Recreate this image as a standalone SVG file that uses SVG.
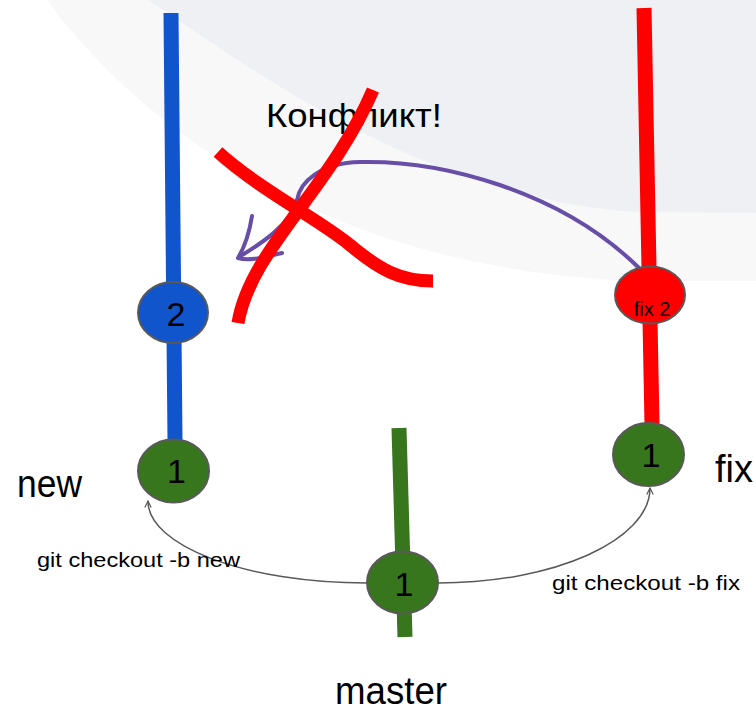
<svg xmlns="http://www.w3.org/2000/svg" width="756" height="711" viewBox="0 0 756 711">
  <defs>
    <marker id="arrGray" viewBox="0 0 10 10" refX="9" refY="5" markerWidth="8" markerHeight="8" orient="auto" markerUnits="userSpaceOnUse">
      <path d="M1,1 L9,5 L1,9" fill="none" stroke="#595959" stroke-width="1.5"/>
    </marker>
  </defs>
  <style>
    text { font-family: "Liberation Sans", Arial, sans-serif; fill: #000000; }
    .node { stroke: #595959; stroke-width: 2; }
    .green { fill: #38761d; }
    .blue { fill: #1155cc; }
    .red { fill: #ff0000; }
    .branch { stroke-width: 15; fill: none; stroke-linecap: butt; }
    .num { font-size: 34px; text-anchor: middle; }
    .label { font-size: 38px; }
    .cmd { font-size: 21px; }
    .link { fill: none; stroke: #595959; stroke-width: 1.5; }
    .cross { fill: none; stroke: #ff0000; stroke-width: 13; stroke-linecap: butt; }
    .merge { fill: none; stroke: #674ea7; stroke-width: 4; stroke-linecap: round; stroke-linejoin: round; }
  </style>
  <rect width="756" height="711" fill="#ffffff"/>
  <g id="background">
    <path d="M47,0 C120,100 300,270 640,281 L756,281 L756,0 Z" fill="#f8f8f9"/>
    <path d="M148,0 C240,60 420,200 640,212 L756,213 L756,0 Z" fill="#eff0f4"/>
  </g>
  <g id="branches">
    <line class="branch" x1="171" y1="13" x2="175" y2="440" stroke="#1155cc"/>
    <line class="branch" x1="644" y1="8" x2="652" y2="424" stroke="#ff0000"/>
    <line class="branch" x1="399" y1="428" x2="405" y2="637" stroke="#38761d"/>
  </g>
  <g id="connectors">
    <path class="link" d="M367,583 C246,583 148,546 148,501" marker-end="url(#arrGray)"/>
    <path class="link" d="M438,583 C555,583 650,540 650,488" marker-end="url(#arrGray)"/>
    <path class="merge" d="M639,268 C560,190 440,160 360,162 C320,163 300,182 297,200 C290,225 262,243 239,257"/>
    <path class="merge" d="M252,216 C249,235 244,248 238,258 C250,262 268,256 282,253"/>
  </g>
  <g id="node-new-2">
    <ellipse class="node blue" cx="173" cy="312.5" rx="35" ry="30.5"/>
    <text class="num" x="176" y="326">2</text>
  </g>
  <g id="node-fix-2">
    <ellipse class="node red" cx="650" cy="295" rx="35" ry="28.5"/>
    <text x="652" y="316" font-size="20" text-anchor="middle">fix 2</text>
  </g>
  <g id="node-new-1">
    <ellipse class="node green" cx="173.5" cy="471" rx="35.5" ry="31.5"/>
    <text class="num" x="176.5" y="483">1</text>
  </g>
  <g id="node-fix-1">
    <ellipse class="node green" cx="648.5" cy="454.5" rx="35.5" ry="31.5"/>
    <text class="num" x="651" y="467">1</text>
  </g>
  <g id="node-master-1">
    <ellipse class="node green" cx="402.5" cy="582.5" rx="35.5" ry="31"/>
    <text class="num" x="404" y="596">1</text>
  </g>
  <g id="labels">
    <text class="label" x="17" y="497" textLength="65" lengthAdjust="spacingAndGlyphs">new</text>
    <text class="label" x="715" y="482" font-size="34" textLength="38" lengthAdjust="spacingAndGlyphs">fix</text>
    <text class="label" x="335" y="704" font-size="36" textLength="112" lengthAdjust="spacingAndGlyphs">master</text>
    <text class="cmd" x="37" y="567" textLength="203" lengthAdjust="spacingAndGlyphs">git checkout -b new</text>
    <text class="cmd" x="552" y="590" textLength="188" lengthAdjust="spacingAndGlyphs">git checkout -b fix</text>
    <text x="266" y="127" font-size="33" textLength="176" lengthAdjust="spacingAndGlyphs">Конфликт!</text>
  </g>
  <g id="conflict-cross">
    <path class="cross" d="M373,90 C330,190 250,250 238,323"/>
    <path class="cross" d="M218,152 C260,190 320,220 350,245 C380,270 400,281 433,281"/>
  </g>
</svg>
